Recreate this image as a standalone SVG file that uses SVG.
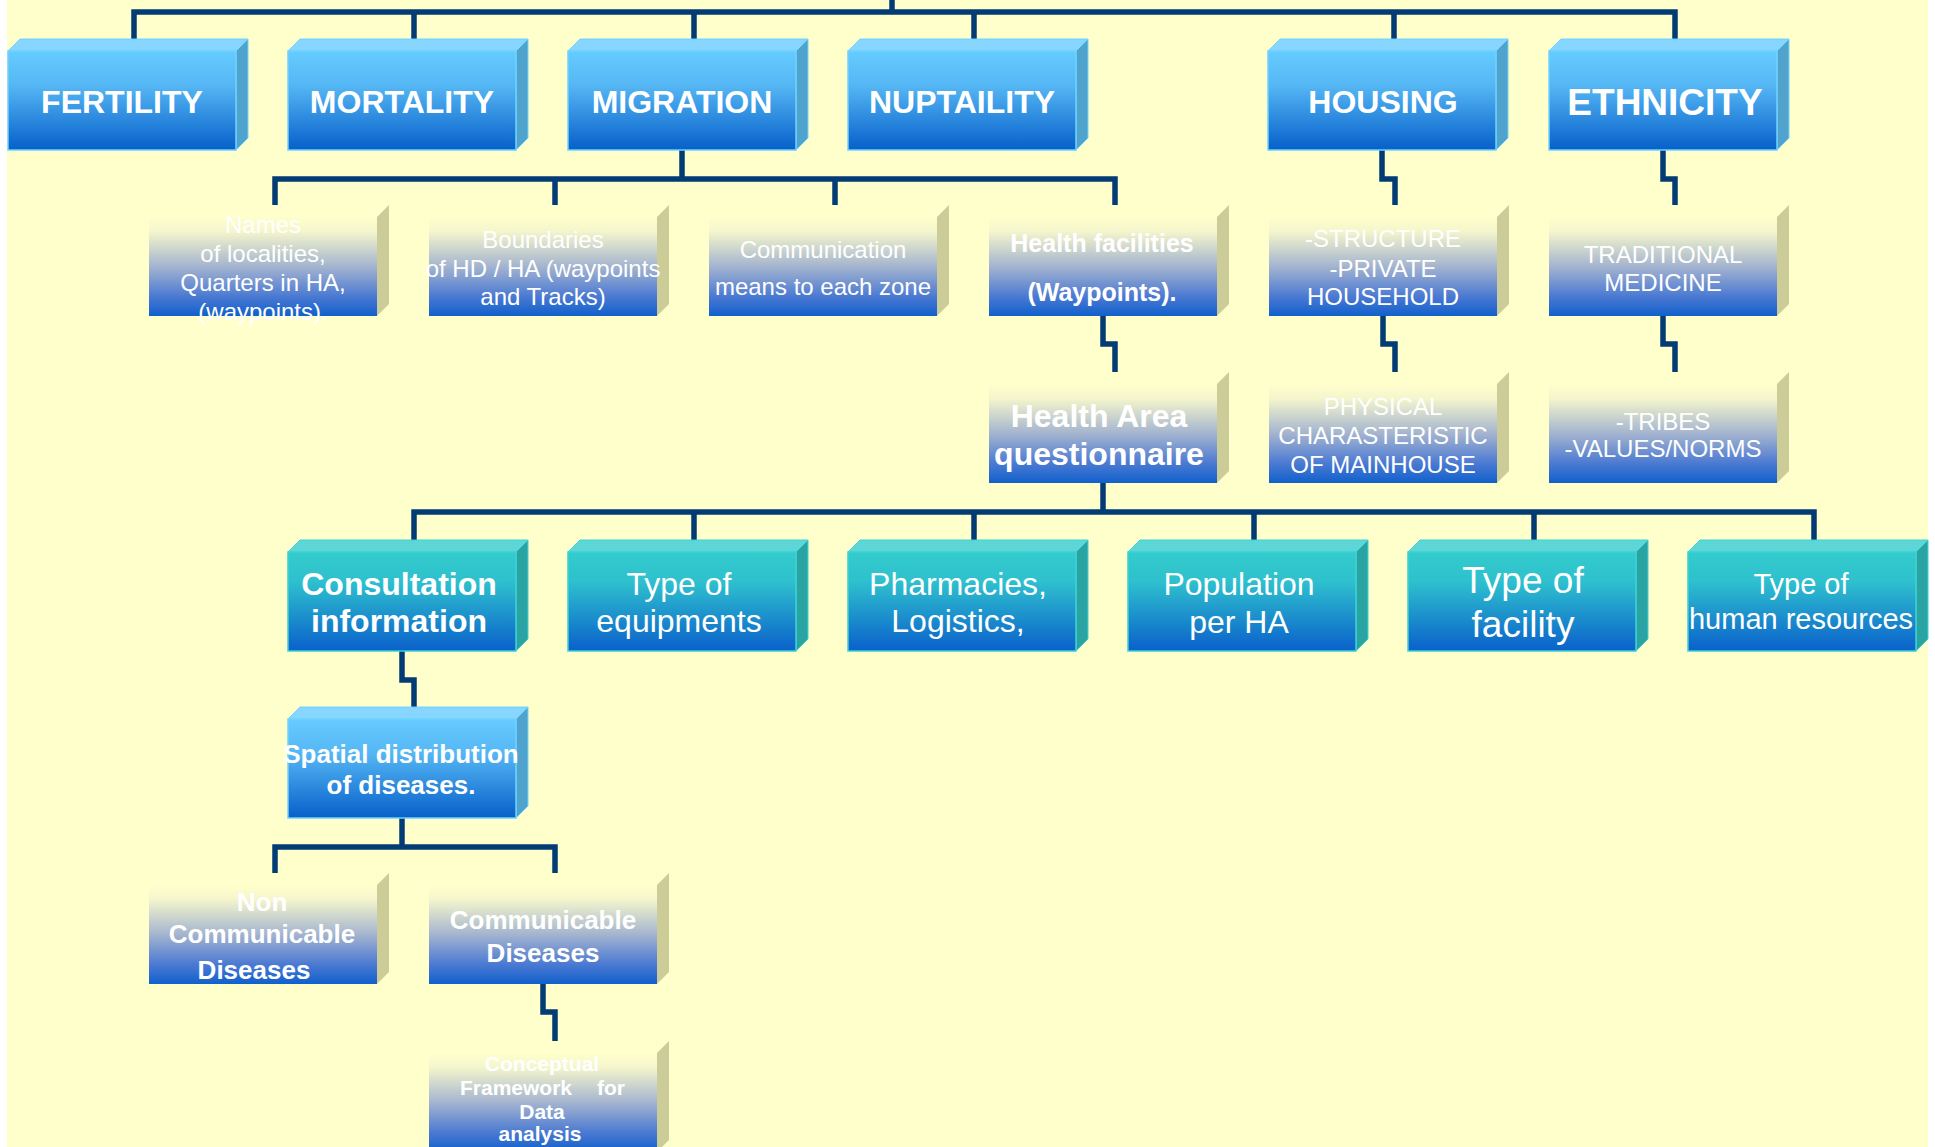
<svg xmlns="http://www.w3.org/2000/svg" width="1935" height="1147" viewBox="0 0 1935 1147">
<defs>
<linearGradient id="gBlue" x1="0" y1="0" x2="0" y2="1">
<stop offset="0" stop-color="#66CCFF"/><stop offset="0.35" stop-color="#55B6F4"/><stop offset="1" stop-color="#0660CA"/>
</linearGradient>
<linearGradient id="gTeal" x1="0" y1="0" x2="0" y2="1">
<stop offset="0" stop-color="#33CCCC"/><stop offset="0.3" stop-color="#2EC0CE"/><stop offset="1" stop-color="#0A60CB"/>
</linearGradient>
<linearGradient id="gLight" x1="0" y1="0" x2="0" y2="1">
<stop offset="0" stop-color="#FFFFCC"/><stop offset="0.15" stop-color="#F4F5CC"/><stop offset="0.5" stop-color="#A4B4CF"/><stop offset="0.8" stop-color="#4C7AD2"/><stop offset="1" stop-color="#1060CC"/>
</linearGradient>
<style>
.fb{fill:url(#gBlue);stroke:#6FD2FF;stroke-width:1.5}
.tb{fill:#86D6FF;stroke:#6FD2FF;stroke-width:1}
.sb{fill:#50A3CD;stroke:#6FD2FF;stroke-width:1}
.ft{fill:url(#gTeal);stroke:#3ED2D2;stroke-width:1.5}
.tt{fill:#5CD6D6;stroke:#3ED2D2;stroke-width:1}
.st{fill:#2AA3A3;stroke:#3ED2D2;stroke-width:1}
.fl{fill:url(#gLight)}
.tl{fill:#FFFFCC}
.sl{fill:#CCCC99}
text{font-family:"Liberation Sans",Arial,sans-serif;fill:#FFFFFF;text-anchor:middle}
.b32{font-size:32px;font-weight:bold}
.b37{font-size:37px;font-weight:bold}
.r24{font-size:24px}
.b25{font-size:25px;font-weight:bold}
.r32{font-size:32px}
.b26{font-size:26px;font-weight:bold}
.b21{font-size:21px;font-weight:bold}
.conn path{fill:none;stroke:#033B75;stroke-width:5.5;stroke-linejoin:miter}
</style>
</defs>
<rect x="0" y="0" width="1935" height="1147" fill="#FFFFFF"/>
<rect x="7" y="0" width="1921" height="1147" fill="#FFFFCC"/>

<g id="connectors" class="conn">
<path d="M892,0 V12"/>
<path d="M134,39 V12 H1675 V39"/>
<path d="M414,12 V39 M694,12 V39 M974,12 V39 M1394,12 V39"/>
<path d="M682,150 V179"/>
<path d="M275,205 V179 H1115 V205"/>
<path d="M555,179 V205 M835,179 V205"/>
<path d="M1382,150 V179 H1395 V205"/>
<path d="M1663,150 V179 H1675 V205"/>
<path d="M1103,316 V344 H1115 V372"/>
<path d="M1383,316 V344 H1395 V372"/>
<path d="M1663,316 V344 H1675 V372"/>
<path d="M1103,483 V512"/>
<path d="M414,540 V512 H1814 V540"/>
<path d="M694,512 V540 M974,512 V540 M1254,512 V540 M1534,512 V540"/>
<path d="M402,651 V680 H414 V707"/>
<path d="M402,818 V847"/>
<path d="M275,873 V847 H555 V873"/>
<path d="M543,984 V1012 H555 V1041"/>
</g>

<g id="fertility">
<polygon class="tb" points="8,51 20,39 248,39 236,51"/><polygon class="sb" points="236,51 248,39 248,138 236,150"/><rect class="fb" x="8" y="51" width="228" height="99"/>
<text class="b32" x="122" y="113">FERTILITY</text>
</g>
<g id="mortality">
<polygon class="tb" points="288,51 300,39 528,39 516,51"/><polygon class="sb" points="516,51 528,39 528,138 516,150"/><rect class="fb" x="288" y="51" width="228" height="99"/>
<text class="b32" x="402" y="113">MORTALITY</text>
</g>
<g id="migration">
<polygon class="tb" points="568,51 580,39 808,39 796,51"/><polygon class="sb" points="796,51 808,39 808,138 796,150"/><rect class="fb" x="568" y="51" width="228" height="99"/>
<text class="b32" x="682" y="113">MIGRATION</text>
</g>
<g id="nuptaility">
<polygon class="tb" points="848,51 860,39 1088,39 1076,51"/><polygon class="sb" points="1076,51 1088,39 1088,138 1076,150"/><rect class="fb" x="848" y="51" width="228" height="99"/>
<text class="b32" x="962" y="113">NUPTAILITY</text>
</g>
<g id="housing">
<polygon class="tb" points="1268,51 1280,39 1508,39 1496,51"/><polygon class="sb" points="1496,51 1508,39 1508,138 1496,150"/><rect class="fb" x="1268" y="51" width="228" height="99"/>
<text class="b32" x="1383" y="113">HOUSING</text>
</g>
<g id="ethnicity">
<polygon class="tb" points="1549,51 1561,39 1789,39 1777,51"/><polygon class="sb" points="1777,51 1789,39 1789,138 1777,150"/><rect class="fb" x="1549" y="51" width="228" height="99"/>
<text class="b37" x="1665" y="115">ETHNICITY</text>
</g>

<g id="names">
<polygon class="tl" points="149,217 161,205 389,205 377,217"/><polygon class="sl" points="377,217 389,205 389,304 377,316"/><rect class="fl" x="149" y="217" width="228" height="99"/>
<text class="r24" x="263" y="233">Names</text>
<text class="r24" x="263" y="262">of localities,</text>
<text class="r24" x="263" y="291">Quarters in HA,</text>
<text class="r24" x="263" y="320">(waypoints).</text>
</g>
<g id="boundaries">
<polygon class="tl" points="429,217 441,205 669,205 657,217"/><polygon class="sl" points="657,217 669,205 669,304 657,316"/><rect class="fl" x="429" y="217" width="228" height="99"/>
<text class="r24" x="543" y="248">Boundaries</text>
<text class="r24" x="543" y="277">of HD / HA (waypoints</text>
<text class="r24" x="543" y="305">and Tracks)</text>
</g>
<g id="communication">
<polygon class="tl" points="709,217 721,205 949,205 937,217"/><polygon class="sl" points="937,217 949,205 949,304 937,316"/><rect class="fl" x="709" y="217" width="228" height="99"/>
<text class="r24" x="823" y="258">Communication</text>
<text class="r24" x="823" y="295">means to each zone</text>
</g>
<g id="health-facilities">
<polygon class="tl" points="989,217 1001,205 1229,205 1217,217"/><polygon class="sl" points="1217,217 1229,205 1229,304 1217,316"/><rect class="fl" x="989" y="217" width="228" height="99"/>
<text class="b25" x="1102" y="252">Health facilities</text>
<text class="b25" x="1102" y="301">(Waypoints).</text>
</g>
<g id="structure">
<polygon class="tl" points="1269,217 1281,205 1509,205 1497,217"/><polygon class="sl" points="1497,217 1509,205 1509,304 1497,316"/><rect class="fl" x="1269" y="217" width="228" height="99"/>
<text class="r24" x="1383" y="247">-STRUCTURE</text>
<text class="r24" x="1383" y="277">-PRIVATE</text>
<text class="r24" x="1383" y="305">HOUSEHOLD</text>
</g>
<g id="traditional-medicine">
<polygon class="tl" points="1549,217 1561,205 1789,205 1777,217"/><polygon class="sl" points="1777,217 1789,205 1789,304 1777,316"/><rect class="fl" x="1549" y="217" width="228" height="99"/>
<text class="r24" x="1663" y="263">TRADITIONAL</text>
<text class="r24" x="1663" y="291">MEDICINE</text>
</g>

<g id="health-area">
<polygon class="tl" points="989,384 1001,372 1229,372 1217,384"/><polygon class="sl" points="1217,384 1229,372 1229,471 1217,483"/><rect class="fl" x="989" y="384" width="228" height="99"/>
<text class="b32" x="1099" y="427">Health Area</text>
<text class="b32" x="1099" y="465">questionnaire</text>
</g>
<g id="physical">
<polygon class="tl" points="1269,384 1281,372 1509,372 1497,384"/><polygon class="sl" points="1497,384 1509,372 1509,471 1497,483"/><rect class="fl" x="1269" y="384" width="228" height="99"/>
<text class="r24" x="1383" y="415">PHYSICAL</text>
<text class="r24" x="1383" y="444">CHARASTERISTIC</text>
<text class="r24" x="1383" y="473">OF MAINHOUSE</text>
</g>
<g id="tribes">
<polygon class="tl" points="1549,384 1561,372 1789,372 1777,384"/><polygon class="sl" points="1777,384 1789,372 1789,471 1777,483"/><rect class="fl" x="1549" y="384" width="228" height="99"/>
<text class="r24" x="1663" y="430">-TRIBES</text>
<text class="r24" x="1663" y="457">-VALUES/NORMS</text>
</g>

<g id="consultation">
<polygon class="tt" points="288,552 300,540 528,540 516,552"/><polygon class="st" points="516,552 528,540 528,639 516,651"/><rect class="ft" x="288" y="552" width="228" height="99"/>
<text class="b32" x="399" y="595">Consultation</text>
<text class="b32" x="399" y="632">information</text>
</g>
<g id="equipments">
<polygon class="tt" points="568,552 580,540 808,540 796,552"/><polygon class="st" points="796,552 808,540 808,639 796,651"/><rect class="ft" x="568" y="552" width="228" height="99"/>
<text class="r32" x="679" y="595">Type of</text>
<text class="r32" x="679" y="632">equipments</text>
</g>
<g id="pharmacies">
<polygon class="tt" points="848,552 860,540 1088,540 1076,552"/><polygon class="st" points="1076,552 1088,540 1088,639 1076,651"/><rect class="ft" x="848" y="552" width="228" height="99"/>
<text class="r32" x="958" y="595">Pharmacies,</text>
<text class="r32" x="958" y="632">Logistics,</text>
</g>
<g id="population">
<polygon class="tt" points="1128,552 1140,540 1368,540 1356,552"/><polygon class="st" points="1356,552 1368,540 1368,639 1356,651"/><rect class="ft" x="1128" y="552" width="228" height="99"/>
<text class="r32" x="1239" y="595">Population</text>
<text class="r32" x="1239" y="633">per HA</text>
</g>
<g id="facility">
<polygon class="tt" points="1408,552 1420,540 1648,540 1636,552"/><polygon class="st" points="1636,552 1648,540 1648,639 1636,651"/><rect class="ft" x="1408" y="552" width="228" height="99"/>
<text x="1523" y="593" style="font-size:37px">Type of</text>
<text x="1523" y="637" style="font-size:37px">facility</text>
</g>
<g id="human-resources">
<polygon class="tt" points="1688,552 1700,540 1928,540 1916,552"/><polygon class="st" points="1916,552 1928,540 1928,639 1916,651"/><rect class="ft" x="1688" y="552" width="228" height="99"/>
<text x="1801" y="594" style="font-size:29px">Type of</text>
<text x="1801" y="629" style="font-size:29px">human resources</text>
</g>

<g id="spatial">
<polygon class="tb" points="288,719 300,707 528,707 516,719"/><polygon class="sb" points="516,719 528,707 528,806 516,818"/><rect class="fb" x="288" y="719" width="228" height="99"/>
<text class="b26" x="401" y="763">Spatial distribution</text>
<text class="b26" x="401" y="794">of diseases.</text>
</g>

<g id="non-communicable">
<polygon class="tl" points="149,885 161,873 389,873 377,885"/><polygon class="sl" points="377,885 389,873 389,972 377,984"/><rect class="fl" x="149" y="885" width="228" height="99"/>
<text class="b26" x="262" y="911">Non</text>
<text class="b26" x="262" y="943">Communicable</text>
<text class="b26" x="254" y="979">Diseases</text>
</g>
<g id="communicable">
<polygon class="tl" points="429,885 441,873 669,873 657,885"/><polygon class="sl" points="657,885 669,873 669,972 657,984"/><rect class="fl" x="429" y="885" width="228" height="99"/>
<text class="b26" x="543" y="929">Communicable</text>
<text class="b26" x="543" y="962">Diseases</text>
</g>

<g id="conceptual">
<polygon class="tl" points="429,1053 441,1041 669,1041 657,1053"/><polygon class="sl" points="657,1053 669,1041 669,1140 657,1152"/><rect class="fl" x="429" y="1053" width="228" height="99"/>
<text class="b21" x="542" y="1071">Conceptual</text>
<text class="b21" x="516" y="1095">Framework</text>
<text class="b21" x="611" y="1095">for</text>
<text class="b21" x="542" y="1119">Data</text>
<text class="b21" x="540" y="1141">analysis</text>
</g>
</svg>
